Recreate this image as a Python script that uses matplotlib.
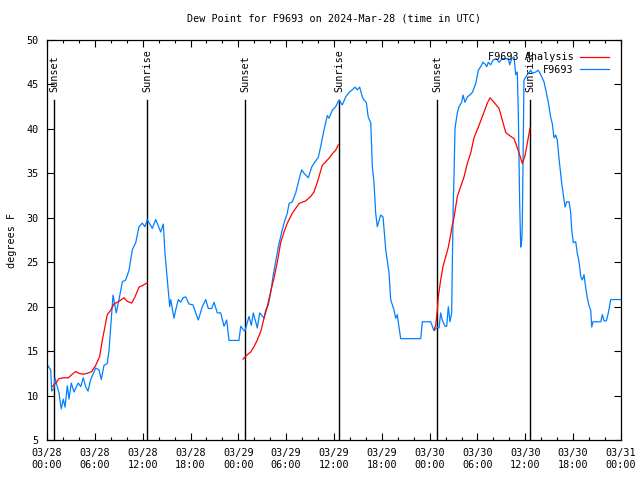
#!/usr/bin/env python3
"""Dew point for F9693, 2024-03-28..31 (UTC), gnuplot-style line chart."""
import numpy as np
import matplotlib
matplotlib.use("Agg")
import matplotlib.pyplot as plt
from matplotlib.ticker import MultipleLocator

FONT = "DejaVu Sans Mono"
FS = 7.3

# ── data: hours since 03/28 00:00 UTC ───────────────────────────────────────────
obs_hours = [0.0, 0.46, 0.59, 0.88, 1.0, 1.29, 1.5, 1.79, 2.04, 2.26, 2.55, 2.76, 3.05,
             3.39, 3.68, 3.93, 4.23, 4.55, 4.85, 5.14, 5.48, 6.11, 6.52, 6.81, 7.15,
             7.56, 7.78, 7.99, 8.28, 8.69, 9.03, 9.45, 9.87, 10.29, 10.70, 11.13,
             11.54, 11.95, 12.29, 12.58, 13.21, 13.64, 14.26, 14.59, 14.80, 15.09,
             15.39, 15.52, 15.93, 16.14, 16.47, 16.77, 17.06, 17.40, 17.81, 18.31,
             18.65, 18.98, 19.48, 19.91, 20.23, 20.66, 20.95, 21.36, 21.79, 22.20,
             22.54, 22.83, 24.08, 24.30, 24.71, 24.84, 25.34, 25.63, 25.88, 26.38,
             26.68, 27.22, 27.43, 27.76, 28.06, 28.35, 28.69, 29.01, 29.44, 29.73,
             30.14, 30.36, 30.77, 31.20, 31.61, 31.95, 32.24, 32.78, 33.20, 33.62,
             34.03, 34.33, 34.75, 35.16, 35.37, 35.79, 36.21, 36.63, 37.04, 37.47,
             37.88, 38.30, 38.64, 38.92, 39.22, 39.55, 39.76, 40.05, 40.30, 40.61,
             40.81, 41.02, 41.23, 41.43, 41.86, 42.15, 42.49, 42.90, 43.11, 43.53,
             43.74, 43.94, 44.15, 44.37, 46.88, 47.08, 48.13, 48.54, 48.96, 49.17,
             49.38, 49.58, 49.92, 50.14, 50.34, 50.55, 50.76, 50.84, 50.97, 51.05,
             51.18, 51.47, 51.68, 52.02, 52.18, 52.43, 52.72, 53.02, 53.35, 53.78,
             54.10, 54.40, 54.69, 54.94, 55.16, 55.36, 55.66, 55.95, 56.36, 56.70,
             57.11, 57.87, 58.04, 58.29, 58.58, 58.79, 58.99, 59.12, 59.29, 59.42,
             59.55, 59.62, 59.83, 60.25, 60.67, 60.88, 61.30, 61.63, 61.93, 62.34,
             62.63, 62.88, 63.18, 63.38, 63.60, 63.81, 64.01, 64.22, 64.56, 64.85,
             64.98, 65.19, 65.48, 65.69, 65.82, 66.02, 66.32, 66.52, 66.73, 66.95,
             67.15, 67.36, 67.58, 67.77, 67.99, 68.20, 68.33, 68.49, 69.46, 69.66,
             69.87, 70.16, 70.41, 70.71, 71.75, 72.0]
obs_dewpt = [13.5, 12.9, 10.5, 10.8, 12.0, 11.0, 10.3, 8.5, 9.6, 8.7, 11.1, 9.6, 11.4,
             10.4, 11.0, 11.4, 11.0, 12.0, 11.0, 10.5, 11.8, 13.1, 12.9, 11.8, 13.4,
             13.6, 15.1, 17.7, 21.3, 19.3, 20.8, 22.8, 23.0, 24.1, 26.4, 27.2,
             29.0, 29.4, 29.0, 29.8, 28.8, 29.8, 28.4, 29.3, 26.0, 23.0,
             20.0, 20.8, 18.7, 19.6, 20.8, 20.5, 21.0, 21.1, 20.3, 20.2,
             19.3, 18.5, 20.0, 20.8, 19.8, 19.8, 20.5, 19.3, 19.3, 17.8,
             18.5, 16.2, 16.2, 17.8, 17.3, 17.3, 18.9, 17.9, 19.3, 17.6,
             19.3, 18.7, 19.6, 20.2, 21.6, 23.4, 25.1, 26.7, 28.4, 29.4,
             30.5, 31.6, 31.8, 32.8, 34.3, 35.4, 35.0, 34.5, 35.7, 36.3,
             36.8, 38.0, 39.9, 41.5, 41.2, 42.1, 42.5, 43.25, 42.7, 43.6,
             44.1, 44.4, 44.7, 44.4, 44.7, 43.6, 43.25, 43.0, 41.3, 40.7,
             35.7, 33.9, 30.5, 29.0, 30.3, 30.1, 26.4, 23.8, 20.8, 19.6,
             18.7, 19.1, 17.7, 16.4, 16.4, 18.3, 18.3, 17.3, 17.7, 17.6,
             19.3, 18.5, 17.8, 17.8, 20.0, 18.3, 19.3, 24.7, 32.0, 34.6,
             40.1, 41.8, 42.5, 43.0, 43.8, 43.0, 43.6, 43.8, 44.1, 45.1,
             46.6, 47.0, 47.5, 47.3, 47.0, 47.5, 47.2, 47.75, 47.9, 47.5,
             47.9, 47.9, 47.2, 47.9, 48.1, 46.1, 46.4, 41.8, 31.7, 26.7,
             27.5, 29.2, 45.5, 46.1, 46.6, 46.25, 46.4, 46.6, 46.1, 45.3,
             44.1, 43.0, 41.3, 40.6, 39.0, 39.3, 38.75, 36.7, 33.9, 32.0,
             31.2, 31.8, 31.8, 30.6, 28.6, 27.2, 27.3, 26.0, 25.1, 23.4,
             23.0, 23.6, 22.1, 21.0, 20.1, 19.6, 17.7, 18.3, 18.3, 19.1,
             18.4, 18.4, 19.3, 20.8, 20.8, 20.8]

ana1_hours = [0.66, 1.09, 1.5, 2.13, 2.67, 3.17, 3.60, 4.01, 4.55, 5.06, 5.61, 6.11,
              6.61, 6.94, 7.24, 7.56, 7.99, 8.40, 9.03, 9.66, 10.07, 10.62, 11.04,
              11.54, 12.04, 12.58]
ana1_dewpt = [11.0, 11.4, 11.9, 12.0, 12.0, 12.4, 12.7, 12.5, 12.4, 12.5, 12.7, 13.4,
              14.4, 16.25, 17.6, 19.1, 19.6, 20.3, 20.6, 21.0, 20.6, 20.4, 21.1,
              22.2, 22.4, 22.7]
ana2_hours = [24.59, 25.13, 25.55, 25.97, 26.38, 26.81, 27.22, 27.63, 28.06, 28.47,
              28.89, 29.31, 29.73, 30.14, 30.77, 31.61, 32.45, 33.08, 33.49, 33.91,
              34.53, 34.96, 35.37, 35.88, 36.21, 36.54]
ana2_dewpt = [14.1, 14.6, 14.9, 15.5, 16.25, 17.2, 18.7, 20.0, 21.7, 23.2,
              25.0, 27.2, 28.4, 29.4, 30.5, 31.6, 31.9, 32.4, 32.9, 34.0,
              35.9, 36.3, 36.7, 37.3, 37.6, 38.2]
ana3_hours = [48.54, 48.76, 48.96, 49.08, 49.38, 49.67, 50.01, 50.34, 50.64, 50.84,
              51.05, 51.47, 51.89, 52.31, 52.72, 53.15, 53.56, 54.19, 54.82, 55.23,
              55.57, 56.07, 56.70, 57.11, 57.54, 57.95, 58.58, 58.87, 59.21, 59.62,
              59.96, 60.25, 60.59]
ana3_dewpt = [17.4, 17.9, 19.6, 21.1, 23.0, 24.5, 25.6, 26.7, 28.1, 29.2,
              30.0, 32.4, 33.5, 34.6, 36.1, 37.3, 39.0, 40.4, 41.9, 42.9,
              43.5, 43.0, 42.3, 41.0, 39.6, 39.3, 38.9, 38.2, 37.3, 36.1,
              37.0, 38.4, 40.1]

sun_hours  = [0.88, 12.54, 24.84, 36.63, 48.92, 60.59]
sun_labels = ["Sunset", "Sunrise", "Sunset", "Sunrise", "Sunset", "Sunrise"]
SUN_TOP    = 43.25

tick_hours  = list(range(0, 73, 6))
tick_labels = ["03/28\n00:00", "03/28\n06:00", "03/28\n12:00", "03/28\n18:00",
               "03/29\n00:00", "03/29\n06:00", "03/29\n12:00", "03/29\n18:00",
               "03/30\n00:00", "03/30\n06:00", "03/30\n12:00", "03/30\n18:00",
               "03/31\n00:00"]

RED, BLUE = "#ff0000", "#0080ff"

# ── figure ──────────────────────────────────────────────────────────────────────
plt.rcParams["font.family"] = FONT
fig = plt.figure(figsize=(6.4, 4.8), dpi=100)
ax = fig.add_axes([47 / 640, 40 / 480, 574 / 640, 400 / 480])

for h, lab in zip(sun_hours, sun_labels):
    ax.plot([h, h], [5, SUN_TOP], color="black", lw=1.0, zorder=1)
    ax.text(h, SUN_TOP + 0.9, lab, rotation=90, ha="center", va="bottom",
            fontsize=FS, zorder=1)

for i, (hh, dd) in enumerate([(ana1_hours, ana1_dewpt), (ana2_hours, ana2_dewpt),
                              (ana3_hours, ana3_dewpt)]):
    ax.plot(hh, dd, color=RED, lw=0.9, zorder=3,
            label="F9693 Analysis" if i == 0 else None)
ax.plot(obs_hours, obs_dewpt, color=BLUE, lw=0.9, zorder=2, label="F9693")

ax.set_xlim(0, 72)
ax.set_ylim(5, 50)
ax.set_xticks(tick_hours)
ax.set_xticklabels(tick_labels)
ax.xaxis.set_minor_locator(MultipleLocator(2))
ax.yaxis.set_major_locator(MultipleLocator(5))
ax.tick_params(which="both", direction="in", top=True, right=True,
               labelsize=FS, width=0.8, pad=6)
ax.tick_params(which="major", length=5)
ax.tick_params(which="minor", length=2.5)
for s in ax.spines.values():
    s.set_linewidth(0.9)

ax.set_ylabel("degrees F", fontsize=FS, labelpad=7)
ax.set_title("Dew Point for F9693 on 2024-Mar-28 (time in UTC)", fontsize=FS, pad=13)

leg = ax.legend(loc="upper right", fontsize=FS, frameon=False, markerfirst=False,
                handlelength=2.8, handletextpad=0.7, borderaxespad=0.8,
                labelspacing=0.25)
for t in leg.get_texts():
    t.set_ha("right")

fig.savefig("out.png", dpi=100)
plt.close(fig)
